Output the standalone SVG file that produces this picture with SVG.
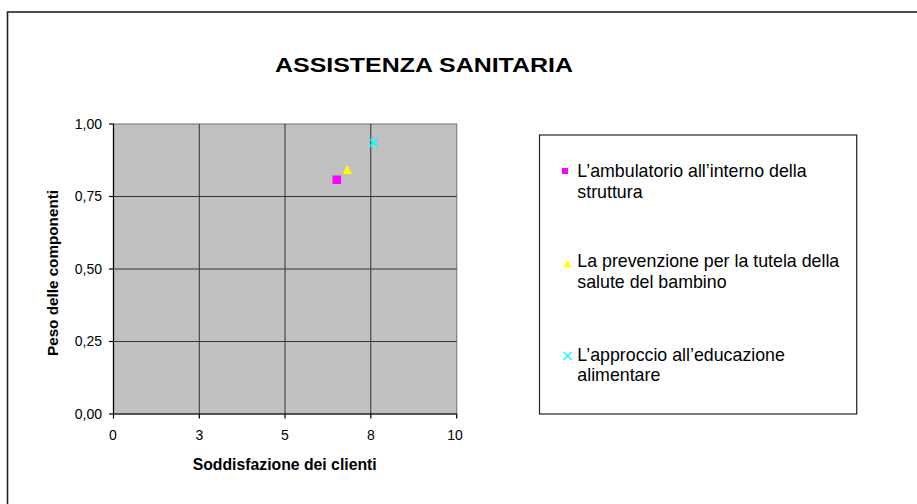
<svg xmlns="http://www.w3.org/2000/svg" width="917" height="504" viewBox="0 0 917 504">
<style>
text{font-family:"Liberation Sans",Arial,sans-serif;fill:#000}
.tick{font-size:14px}
.ytick{text-anchor:end}
.xtick{text-anchor:middle}
.ttl{font-weight:bold}
.leg{font-size:17.8px}
.grid{stroke:#333;stroke-width:1}
.axis{stroke:#000;stroke-width:1.2}
</style>
<rect x="7.5" y="12" width="920" height="500" fill="#fff" stroke="#222" stroke-width="1.6"/>
<text id="title" class="ttl" x="424" y="71.5" font-size="19.8" text-anchor="middle" textLength="298" lengthAdjust="spacingAndGlyphs">ASSISTENZA SANITARIA</text>
<g id="plot">
<rect x="113.5" y="124" width="343.2" height="290" fill="#c0c0c0" stroke="#808080" stroke-width="1.2"/>
<g class="grid">
<line x1="199.3" y1="124" x2="199.3" y2="414"/>
<line x1="285" y1="124" x2="285" y2="414"/>
<line x1="370.8" y1="124" x2="370.8" y2="414"/>
<line x1="113.5" y1="196.5" x2="456.7" y2="196.5"/>
<line x1="113.5" y1="269" x2="456.7" y2="269"/>
<line x1="113.5" y1="341.5" x2="456.7" y2="341.5"/>
</g>
<g class="axis">
<line x1="113.5" y1="124" x2="113.5" y2="414"/>
<line x1="113.5" y1="414" x2="456.7" y2="414"/>
<line x1="109" y1="124" x2="113.5" y2="124"/>
<line x1="109" y1="196.5" x2="113.5" y2="196.5"/>
<line x1="109" y1="269" x2="113.5" y2="269"/>
<line x1="109" y1="341.5" x2="113.5" y2="341.5"/>
<line x1="109" y1="414" x2="113.5" y2="414"/>
<line x1="113.5" y1="414" x2="113.5" y2="418.5"/>
<line x1="199.3" y1="414" x2="199.3" y2="418.5"/>
<line x1="285" y1="414" x2="285" y2="418.5"/>
<line x1="370.8" y1="414" x2="370.8" y2="418.5"/>
<line x1="456.7" y1="414" x2="456.7" y2="418.5"/>
</g>
<g class="tick ytick">
<text x="102" y="128.5">1,00</text>
<text x="102" y="201">0,75</text>
<text x="102" y="273.5">0,50</text>
<text x="102" y="346">0,25</text>
<text x="102" y="418.5">0,00</text>
</g>
<g class="tick xtick">
<text x="113" y="440">0</text>
<text x="199.5" y="440">3</text>
<text x="285" y="440">5</text>
<text x="370.8" y="440">8</text>
<text x="455" y="440">10</text>
</g>
<text id="xtitle" class="ttl" x="284.7" y="470" font-size="15.8" text-anchor="middle" textLength="184" lengthAdjust="spacingAndGlyphs">Soddisfazione dei clienti</text>
<text id="ytitle" class="ttl" transform="translate(57.5,273) rotate(-90)" x="0" y="0" font-size="15.5" text-anchor="middle" textLength="166" lengthAdjust="spacingAndGlyphs">Peso delle componenti</text>
</g>
<g id="series">
<rect id="pt1" x="332.5" y="175.5" width="8.5" height="8.5" fill="#ff00ff"/>
<polygon id="pt2" points="347.3,165 352,174 342.7,174" fill="#ffff00"/>
<path id="pt3" d="M369,138.3 L378,147.3 M378,138.3 L369,147.3" stroke="#00ffff" stroke-width="1.6" fill="none"/>
</g>
<g id="legend">
<rect x="539.5" y="135" width="317.2" height="279" fill="#fff" stroke="#222" stroke-width="1.2"/>
<g id="leg1">
<rect x="562" y="168" width="6" height="6" fill="#ff00ff"/>
<text class="leg" x="577.3" y="176.7">L’ambulatorio all’interno della</text>
<text class="leg" x="577.3" y="198.3">struttura</text>
</g>
<g id="leg2">
<polygon points="567.5,260 571.7,267.3 563.3,267.3" fill="#ffff00"/>
<text class="leg" x="577.3" y="267.3">La prevenzione per la tutela della</text>
<text class="leg" x="577.3" y="288.3">salute del bambino</text>
</g>
<g id="leg3">
<path d="M563.5,352 L571.5,360 M571.5,352 L563.5,360" stroke="#00ffff" stroke-width="1.3" fill="none"/>
<text class="leg" x="577.3" y="360.7">L’approccio all’educazione</text>
<text class="leg" x="577.3" y="380.7">alimentare</text>
</g>
</g>
</svg>
